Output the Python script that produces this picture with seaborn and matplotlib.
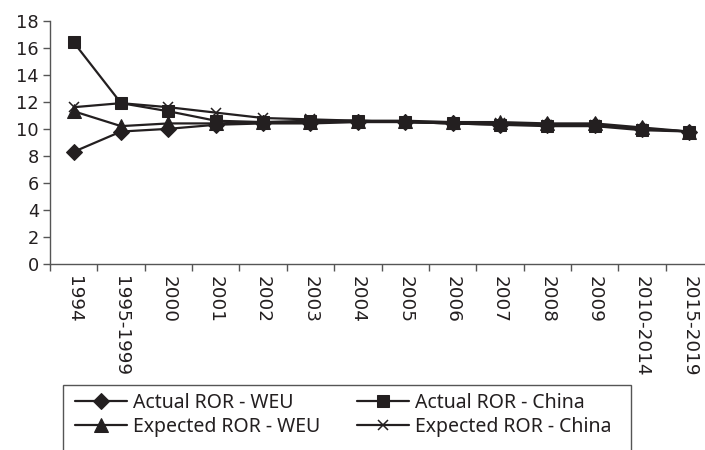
import matplotlib
matplotlib.use("Agg")
import matplotlib.pyplot as plt
import seaborn as sns
import pandas as pd
from matplotlib.patches import Rectangle

categories = ["1994", "1995-1999", "2000", "2001", "2002", "2003", "2004", "2005",
              "2006", "2007", "2008", "2009", "2010-2014", "2015-2019"]
actual_weu = [8.3, 9.8, 10.0, 10.3, 10.4, 10.4, 10.5, 10.5, 10.4, 10.3, 10.3, 10.3, 10.0, 9.8]
actual_china = [16.4, 11.9, 11.3, 10.6, 10.5, 10.6, 10.6, 10.5, 10.4, 10.3, 10.2, 10.2, 9.9, 9.8]
expected_weu = [11.3, 10.2, 10.4, 10.4, 10.5, 10.5, 10.6, 10.6, 10.5, 10.5, 10.4, 10.4, 10.1, 9.8]
expected_china = [11.6, 11.9, 11.6, 11.2, 10.8, 10.7, 10.6, 10.5, 10.4, 10.4, 10.3, 10.3, 10.0, 9.8]
y_ticks = [0, 2, 4, 6, 8, 10, 12, 14, 16, 18]

sns.set_theme(style="white")
plt.rcParams["font.family"] = ["DejaVu Sans"]

INK = "#231f20"
W, H = 705, 450
fig = plt.figure(figsize=(W / 100, H / 100), dpi=100)
ax = fig.add_axes([50 / W, (H - 264) / H, 663 / W, (264 - 20.7) / H])

pos = list(range(len(categories)))
series = [
    ("Actual ROR - WEU", actual_weu, dict(marker="D", markersize=8.5)),
    ("Expected ROR - WEU", expected_weu, dict(marker="^", markersize=10.5)),
    ("Actual ROR - China", actual_china, dict(marker="s", markersize=8.5)),
    ("Expected ROR - China", expected_china, dict(marker="x", markersize=7.5, markeredgewidth=1.1)),
]
for name, vals, mk in series:
    df = pd.DataFrame({"x": pos, "y": vals})
    sns.lineplot(data=df, x="x", y="y", ax=ax, color=INK, linewidth=1.6,
                 label=name, markeredgecolor=INK, markerfacecolor=INK, **mk)

ax.set_xlim(-0.5, len(categories) - 0.5)
ax.set_ylim(0, 18)
ax.set_yticks(y_ticks)
ax.set_yticklabels([str(t) for t in y_ticks], fontsize=12.8, color=INK)
ax.set_xticks(pos)
ax.set_xticklabels(categories, rotation=270, fontsize=13.2, color=INK, va="top", ha="center")
ax.set_xticks([p - 0.5 for p in pos] + [len(categories) - 0.5], minor=True)
ax.tick_params(axis="x", which="major", length=0, pad=9)
ax.tick_params(axis="x", which="minor", length=5, width=1, color="#555555", direction="out", bottom=True)
ax.tick_params(axis="y", which="major", length=5, width=1, color="#555555", direction="out", left=True, pad=3)
ax.set_xlabel("")
ax.set_ylabel("")
for s in ["top", "right"]:
    ax.spines[s].set_visible(False)
for s in ["left", "bottom"]:
    ax.spines[s].set_color("#555555")
    ax.spines[s].set_linewidth(1.0)

ax.get_legend().remove()
handles, labels = ax.get_legend_handles_labels()
leg = fig.legend(handles, labels, ncol=2, loc="upper left",
                 bbox_to_anchor=(75 / W, 1 - 393 / H),
                 frameon=False,
                 prop={"family": "Noto Sans", "size": 14},
                 handlelength=2.68, handletextpad=0.31, labelspacing=0.2,
                 borderaxespad=0, borderpad=0, columnspacing=1.9)
for t in leg.get_texts():
    t.set_color(INK)
fig.patches.append(Rectangle((63 / W, -0.05), (631 - 63) / W, (H - 385) / H + 0.05,
                             transform=fig.transFigure, fill=False,
                             edgecolor="#555555", linewidth=1.0))

fig.savefig("out.png", dpi=100)
